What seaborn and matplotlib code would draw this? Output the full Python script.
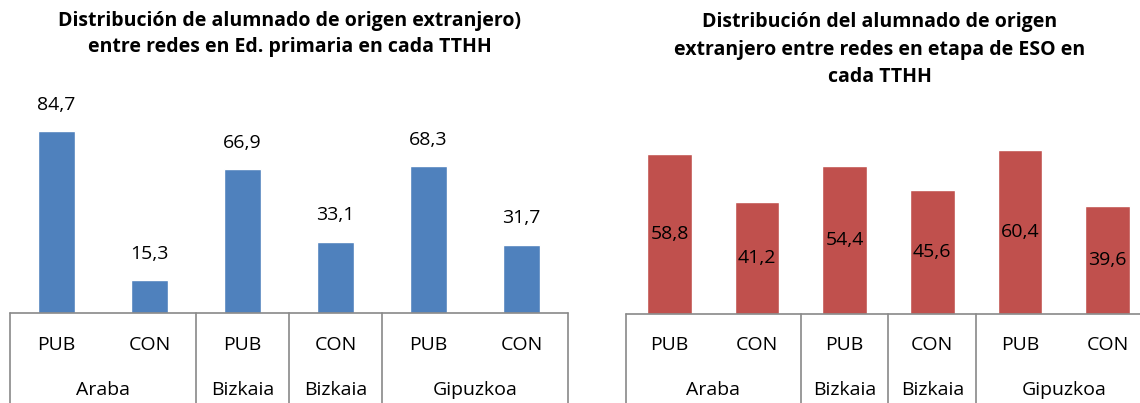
import seaborn as sns
import matplotlib.pyplot as plt
import pandas as pd
from matplotlib.transforms import blended_transform_factory

# datos
redes = ['PUB', 'CON', 'PUB', 'CON', 'PUB', 'CON']
territorios = ['Araba', 'Bizkaia', 'Bizkaia', 'Gipuzkoa']
tramos = [2, 1, 1, 2]  # cuantas barras abarca cada etiqueta de territorio
primaria = [84.7, 15.3, 66.9, 33.1, 68.3, 31.7]
eso = [58.8, 41.2, 54.4, 45.6, 60.4, 39.6]

titulo_prim = "Distribución de alumnado de origen extranjero)\nentre redes en Ed. primaria en cada TTHH"
titulo_eso = "Distribución del alumnado de origen\nextranjero entre redes en etapa de ESO en\ncada TTHH"

AZUL = '#4F81BD'
ROJO = '#C0504D'
GRIS = '#898989'
FS = 14

sns.set_style('white')
plt.rcParams['font.family'] = ['Open Sans', 'DejaVu Sans']
plt.rcParams['text.color'] = 'black'

W, H = 1140, 403
fig = plt.figure(figsize=(W / 100, H / 100), dpi=100)


def px_axes(x0, x1, y_base, alto):
    return fig.add_axes([x0 / W, (H - y_base) / H, (x1 - x0) / W, alto / H])


def dibujar(ax, valores, color, ancho, dentro, y_base):
    df = pd.DataFrame({'pos': [f'{i}' for i in range(len(valores))],
                       'valor': valores})
    sns.barplot(data=df, x='pos', y='valor', color=color, width=ancho,
                saturation=1, ax=ax, errorbar=None)
    ax.set_xlim(-0.5, len(valores) - 0.5)
    for s in ax.spines.values():
        s.set_visible(False)
    ax.set_xticks([])
    ax.set_yticks([])
    ax.set_xlabel('')
    ax.set_ylabel('')

    etiquetas = [f'{v:.1f}'.replace('.', ',') for v in valores]
    if dentro:
        ax.bar_label(ax.containers[0], labels=etiquetas, label_type='center',
                     fontsize=FS, color='black')
    else:
        for i, v in enumerate(valores):
            ax.annotate(etiquetas[i], (i, v), xytext=(0, 19),
                        textcoords='offset points', ha='center', va='center',
                        fontsize=FS, annotation_clip=False)

    # eje de categorias con dos niveles, al estilo de Excel
    tr = blended_transform_factory(ax.transData, fig.transFigure)
    yb = (H - y_base) / H
    ax.plot([-0.5, len(valores) - 0.5], [yb, yb], color=GRIS, lw=1.2,
            transform=tr, clip_on=False)
    bordes = [-0.5]
    for t in tramos:
        bordes.append(bordes[-1] + t)
    for b in bordes:
        ax.plot([b, b], [yb, -0.05], color=GRIS, lw=1.2, transform=tr,
                clip_on=False)
    for i, r in enumerate(redes):
        ax.text(i, (H - 345) / H, r, transform=tr, ha='center', va='center',
                fontsize=FS)
    for k, terr in enumerate(territorios):
        centro = (bordes[k] + bordes[k + 1]) / 2
        ax.text(centro, (H - 390) / H, terr, transform=tr, ha='center',
                va='center', fontsize=FS)


ax1 = px_axes(10, 568, 313, 215)
ax1.set_ylim(0, 100)
dibujar(ax1, primaria, AZUL, 0.4, False, 313)

ax2 = px_axes(625.7, 1151.3, 314, 190.4)
ax2.set_ylim(0, 70)
dibujar(ax2, eso, ROJO, 0.51, True, 314)

fig.text(290 / W, 1 - 34 / H, titulo_prim, ha='center', va='center',
         fontsize=14, fontweight='bold', linespacing=1.35)
fig.text(880 / W, 1 - 50 / H, titulo_eso, ha='center', va='center',
         fontsize=14, fontweight='bold', linespacing=1.5)

fig.savefig('out.png', dpi=100)
